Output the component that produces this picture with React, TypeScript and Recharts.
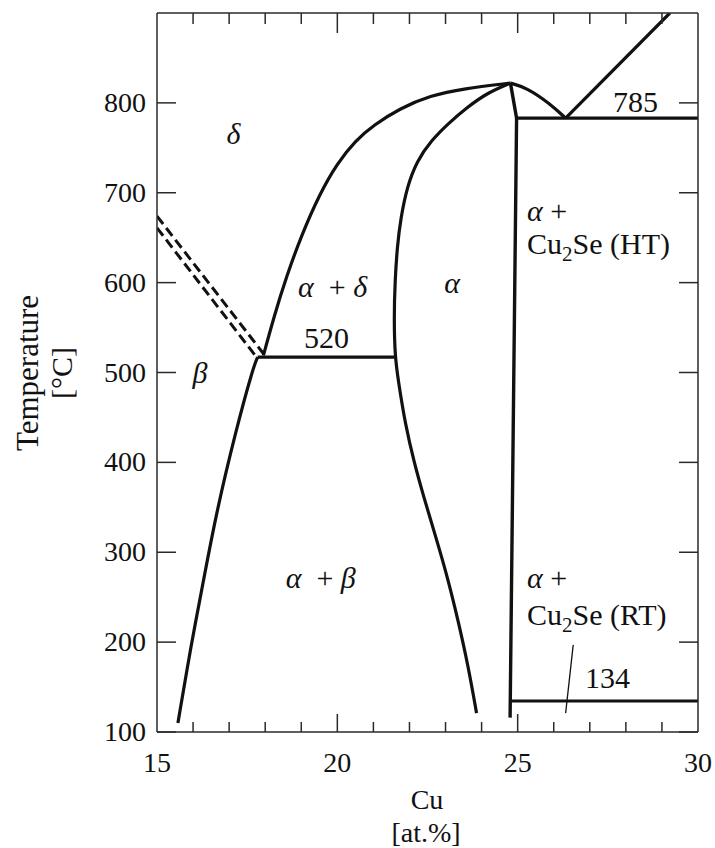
import React from 'react';
import { ComposedChart, Line, XAxis, YAxis, ReferenceDot, Customized } from 'recharts';

const FONT = '"Liberation Serif", "Times New Roman", Times, serif';
const INK = '#111';
const FRAME = '#2a2a2a';

// axis ticks
const xTicks = [15, 16, 17, 18, 19, 20, 21, 22, 23, 24, 25, 26, 27, 28, 29, 30];
const xLabelTicks = [15, 20, 25, 30];
const yTicks = [100, 200, 300, 400, 500, 600, 700, 800];

// phase boundaries, x = Cu at.%, t = temperature °C
const betaBoundary = [
  { x: 15.58, t: 110 }, { x: 15.96, t: 200 }, { x: 16.19, t: 247 }, { x: 16.62, t: 340 },
  { x: 17.19, t: 436 }, { x: 17.67, t: 506 }, { x: 17.79, t: 517 },
];
const deltaBoundary = [
  { x: 17.95, t: 519 }, { x: 18.25, t: 563 }, { x: 18.6, t: 608 }, { x: 19.0, t: 652 },
  { x: 19.5, t: 698 }, { x: 20.0, t: 733 }, { x: 20.5, t: 758 }, { x: 21.0, t: 775 },
  { x: 21.74, t: 794 }, { x: 22.57, t: 808 }, { x: 23.5, t: 816 }, { x: 24.8, t: 822 },
];
const alphaBoundary = [
  { x: 23.86, t: 121 }, { x: 23.63, t: 173 }, { x: 23.35, t: 224 }, { x: 23.03, t: 276 },
  { x: 22.7, t: 321 }, { x: 22.4, t: 361 }, { x: 22.14, t: 398 }, { x: 21.88, t: 443 },
  { x: 21.69, t: 491 }, { x: 21.6, t: 517 }, { x: 21.57, t: 560 }, { x: 21.6, t: 602 },
  { x: 21.66, t: 640 }, { x: 21.76, t: 672 }, { x: 21.93, t: 706 }, { x: 22.2, t: 735 },
  { x: 22.6, t: 758 }, { x: 23.1, t: 778 }, { x: 23.6, t: 795 }, { x: 24.15, t: 811 },
  { x: 24.8, t: 822 },
];
const alphaRight = [{ x: 24.8, t: 822 }, { x: 24.97, t: 783 }, { x: 24.79, t: 116 }];
const liquidusLeft = [{ x: 24.8, t: 822 }, { x: 25.25, t: 817 }, { x: 25.9, t: 799 }, { x: 26.33, t: 783 }];
const liquidusRight = [{ x: 26.33, t: 783 }, { x: 29.22, t: 900 }];
const eutectic785 = [{ x: 24.97, t: 783 }, { x: 30, t: 783 }];
const eutectoid520 = [{ x: 17.79, t: 517 }, { x: 21.6, t: 517 }];
const transition134 = [{ x: 24.79, t: 134.5 }, { x: 30, t: 134.5 }];
const dashedUpper = [{ x: 15, t: 674 }, { x: 17.99, t: 519 }];
const dashedLower = [{ x: 15, t: 661 }, { x: 17.76, t: 517 }];
const leader134 = [{ x: 26.54, t: 197 }, { x: 26.33, t: 121 }];

// region labels
const phaseLabels = [
  { x: 17.12, t: 765, anchor: 'middle', parts: [{ s: 'δ', italic: true }] },
  { x: 16.19, t: 499, anchor: 'middle', parts: [{ s: 'β', italic: true }] },
  { x: 19.87, t: 595, anchor: 'middle', parts: [{ s: 'α', italic: true }, { s: '\u00a0 + ' }, { s: 'δ', italic: true }] },
  { x: 19.7, t: 538, anchor: 'middle', parts: [{ s: '520' }] },
  { x: 23.18, t: 600, anchor: 'middle', parts: [{ s: 'α', italic: true }] },
  { x: 25.26, t: 680, anchor: 'start', parts: [{ s: 'α', italic: true }, { s: ' +' }] },
  { x: 25.26, t: 643, anchor: 'start', parts: [{ s: 'Cu' }, { s: '2', sub: true }, { s: 'Se (HT)' }] },
  { x: 28.27, t: 801, anchor: 'middle', parts: [{ s: '785' }] },
  { x: 19.54, t: 271, anchor: 'middle', parts: [{ s: 'α', italic: true }, { s: '\u00a0 + ' }, { s: 'β', italic: true }] },
  { x: 25.26, t: 271, anchor: 'start', parts: [{ s: 'α', italic: true }, { s: ' +' }] },
  { x: 25.26, t: 230, anchor: 'start', parts: [{ s: 'Cu' }, { s: '2', sub: true }, { s: 'Se (RT)' }] },
  { x: 27.49, t: 160, anchor: 'middle', parts: [{ s: '134' }] },
];

const LABEL_SIZE = 30;

const PhaseText = (props: any) => {
  const { viewBox, parts, anchor } = props;
  const x = viewBox.x + (viewBox.width || 0) / 2;
  const y = viewBox.y + (viewBox.height || 0) / 2 + 10;
  let wasSub = false;
  return (
    <text x={x} y={y} textAnchor={anchor} fontFamily={FONT} fontSize={LABEL_SIZE} fill={INK}>
      {parts.map((p: any, i: number) => {
        let dy: number | undefined;
        if (p.sub) dy = 7;
        else if (wasSub) dy = -7;
        wasSub = !!p.sub;
        return (
          <tspan key={i} dy={dy} fontSize={p.sub ? 21 : LABEL_SIZE} fontStyle={p.italic ? 'italic' : 'normal'}>
            {p.s}
          </tspan>
        );
      })}
    </text>
  );
};

const BottomTick = (props: any) => {
  const { x, y, payload } = props;
  const v = payload.value;
  const major = xLabelTicks.includes(v);
  const edge = v === 15 || v === 30;
  return (
    <g>
      {!edge && <line x1={x} x2={x} y1={y} y2={y - (major ? 18 : 10)} stroke={FRAME} strokeWidth={1.5} />}
      {major && (
        <text x={x} y={y + 40} textAnchor="middle" fontFamily={FONT} fontSize={28} fill={INK}>
          {v}
        </text>
      )}
    </g>
  );
};

const TopTick = (props: any) => {
  const { x, y, payload } = props;
  const v = payload.value;
  const major = xLabelTicks.includes(v);
  if (v === 15 || v === 30) return <g />;
  return <line x1={x} x2={x} y1={y} y2={y + (major ? 20 : 11)} stroke={FRAME} strokeWidth={1.5} />;
};

const LeftTick = (props: any) => {
  const { x, y, payload } = props;
  return (
    <g>
      <line x1={x} x2={x + 19} y1={y} y2={y} stroke={FRAME} strokeWidth={1.5} />
      <text x={x - 11} y={y + 9} textAnchor="end" fontFamily={FONT} fontSize={28} fill={INK}>
        {payload.value}
      </text>
    </g>
  );
};

const RightTick = (props: any) => {
  const { x, y } = props;
  return <line x1={x} x2={x - 19} y1={y} y2={y} stroke={FRAME} strokeWidth={1.5} />;
};

const AxisTitles = () => (
  <g fontFamily={FONT} fill={INK}>
    <text x={38} y={373} fontSize={31} textAnchor="middle" transform="rotate(-90, 38, 373)">Temperature</text>
    <text x={72} y={373} fontSize={30} textAnchor="middle" transform="rotate(-90, 72, 373)">[°C]</text>
    <text x={427} y={809} fontSize={28} textAnchor="middle">Cu</text>
    <text x={426} y={842} fontSize={28} textAnchor="middle">[at.%]</text>
  </g>
);

const curve = (data: any[], type: any, width = 3.2, dash?: string) => (
  <Line
    data={data}
    dataKey="t"
    type={type}
    stroke={INK}
    strokeWidth={width}
    strokeDasharray={dash}
    dot={false}
    activeDot={false}
    isAnimationActive={false}
    legendType="none"
  />
);

export default function App() {
  return (
    <div style={{ position: 'absolute', left: 0, top: 0, width: 715, height: 848, background: '#fff' }}>
      <ComposedChart width={715} height={848} margin={{ top: 12, right: 16, bottom: 0, left: 0 }}>
        <XAxis
          dataKey="x"
          type="number"
          domain={[15, 30]}
          ticks={xTicks}
          interval={0}
          allowDataOverflow
          height={116}
          tickSize={0}
          tickMargin={0}
          tickLine={false}
          tick={<BottomTick />}
          axisLine={{ stroke: FRAME, strokeWidth: 1.5 }}
        />
        <XAxis
          xAxisId="top"
          orientation="top"
          dataKey="x"
          type="number"
          domain={[15, 30]}
          ticks={xTicks}
          interval={0}
          allowDataOverflow
          height={1}
          tickSize={0}
          tickMargin={0}
          tickLine={false}
          tick={<TopTick />}
          axisLine={{ stroke: FRAME, strokeWidth: 1.5 }}
        />
        <YAxis
          type="number"
          domain={[100, 900]}
          ticks={yTicks}
          interval={0}
          allowDataOverflow
          width={157}
          tickSize={0}
          tickMargin={0}
          tickLine={false}
          tick={<LeftTick />}
          axisLine={{ stroke: FRAME, strokeWidth: 1.5 }}
        />
        <YAxis
          yAxisId="right"
          orientation="right"
          type="number"
          domain={[100, 900]}
          ticks={yTicks}
          interval={0}
          allowDataOverflow
          width={1}
          tickSize={0}
          tickMargin={0}
          tickLine={false}
          tick={<RightTick />}
          axisLine={{ stroke: FRAME, strokeWidth: 1.5 }}
        />
        {curve(betaBoundary, 'basis')}
        {curve(deltaBoundary, 'basis')}
        {curve(alphaBoundary, 'basis')}
        {curve(alphaRight, 'linear', 3.4)}
        {curve(liquidusLeft, 'basis')}
        {curve(liquidusRight, 'linear')}
        {curve(eutectic785, 'linear')}
        {curve(eutectoid520, 'linear')}
        {curve(transition134, 'linear')}
        {curve(dashedUpper, 'linear', 3, '10 5')}
        {curve(dashedLower, 'linear', 3, '10 5')}
        {curve(leader134, 'linear', 1.3)}
        {phaseLabels.map((l, i) => (
          <ReferenceDot
            key={i}
            x={l.x}
            y={l.t}
            r={0}
            fill="none"
            stroke="none"
            label={<PhaseText parts={l.parts} anchor={l.anchor} />}
          />
        ))}
        <Customized component={<AxisTitles />} />
      </ComposedChart>
    </div>
  );
}
